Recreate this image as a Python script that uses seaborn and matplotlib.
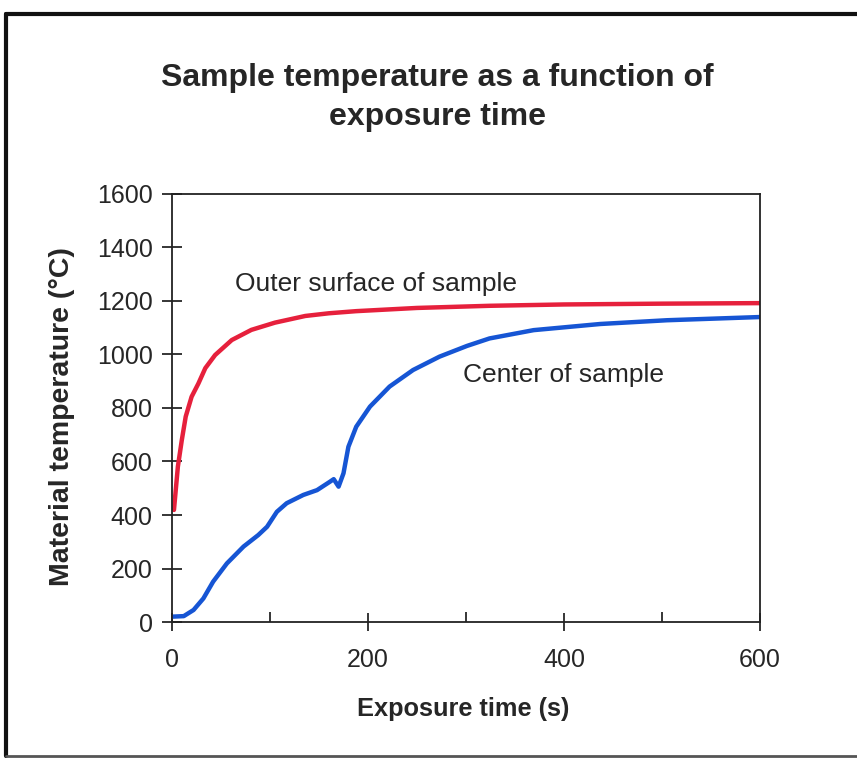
import numpy as np
import pandas as pd
import matplotlib.pyplot as plt
import seaborn as sns
from matplotlib.lines import Line2D

# Valores (tempo em s, temperatura em °C)
tempo_superficie = [2, 6, 10, 14, 20, 27, 34, 44, 61, 81, 105, 136, 160, 188, 250, 324, 400, 500, 600]
temp_superficie = [419, 581, 680, 768, 842, 892, 949, 998, 1054, 1092, 1119, 1144, 1154, 1162, 1174, 1182, 1187, 1190, 1192]

tempo_centro = [0, 12, 22, 32, 42, 56, 73, 88, 97, 107, 117, 134, 148, 161, 165, 170, 175, 180,
                188, 202, 222, 246, 273, 301, 324, 369, 437, 505, 600]
temp_centro = [20, 22, 45, 88, 151, 219, 282, 325, 356, 412, 444, 475, 493, 524, 534, 506, 556, 655,
               730, 805, 880, 942, 992, 1032, 1060, 1091, 1114, 1128, 1140]

df = pd.concat([
    pd.DataFrame({'tempo': tempo_superficie, 'temp': temp_superficie, 'serie': 'Outer surface of sample'}),
    pd.DataFrame({'tempo': tempo_centro, 'temp': temp_centro, 'serie': 'Center of sample'}),
])

sns.set_style('ticks')
plt.rcParams['font.family'] = ['Liberation Sans', 'DejaVu Sans']

fig = plt.figure(figsize=(8.57, 7.58), dpi=100)
ax = fig.add_axes([0.2007, 0.1794, 0.6861, 0.5647])

sns.lineplot(data=df, x='tempo', y='temp', hue='serie', ax=ax, linewidth=3.2,
             palette={'Outer surface of sample': '#e6203c', 'Center of sample': '#1655d4'},
             legend=False, sort=False)

ax.set_xlim(0, 600)
ax.set_ylim(0, 1600)
ax.set_xticks([0, 200, 400, 600])
ax.set_xticks([100, 300, 500], minor=True)
ax.set_yticks(range(0, 1601, 200))
for s in ax.spines.values():
    s.set_visible(True)
    s.set_linewidth(1.3)
    s.set_color('#222222')
ax.tick_params(axis='y', direction='inout', length=14, width=1.3, labelsize=18, pad=7)
ax.tick_params(axis='x', direction='inout', length=13, width=1.3, labelsize=18, pad=12)
ax.tick_params(axis='x', which='minor', direction='in', length=7, width=1.3)

ax.set_xlabel('Exposure time (s)', fontsize=18.3, fontweight='bold')
ax.set_ylabel('Material temperature (°C)', fontsize=20.5, fontweight='bold')
ax.xaxis.set_label_coords(0.495, -0.175)
ax.yaxis.set_label_coords(-0.165, 0.48)

ax.text(64, 1262, 'Outer surface of sample', fontsize=19, va='center', ha='left')
ax.text(297, 923, 'Center of sample', fontsize=19, va='center', ha='left')

fig.text(0.51, 0.871, 'Sample temperature as a function of\nexposure time', ha='center', va='center',
         fontsize=23, fontweight='bold', linespacing=1.38)

# moldura
fig.add_artist(Line2D([0.007, 0.007], [0.003, 0.982], transform=fig.transFigure, color='#111111', lw=3))
fig.add_artist(Line2D([0.007, 1.0], [0.982, 0.982], transform=fig.transFigure, color='#111111', lw=3))
fig.add_artist(Line2D([0.007, 1.0], [0.003, 0.003], transform=fig.transFigure, color='#555555', lw=2))

fig.savefig('out.png', dpi=100)
